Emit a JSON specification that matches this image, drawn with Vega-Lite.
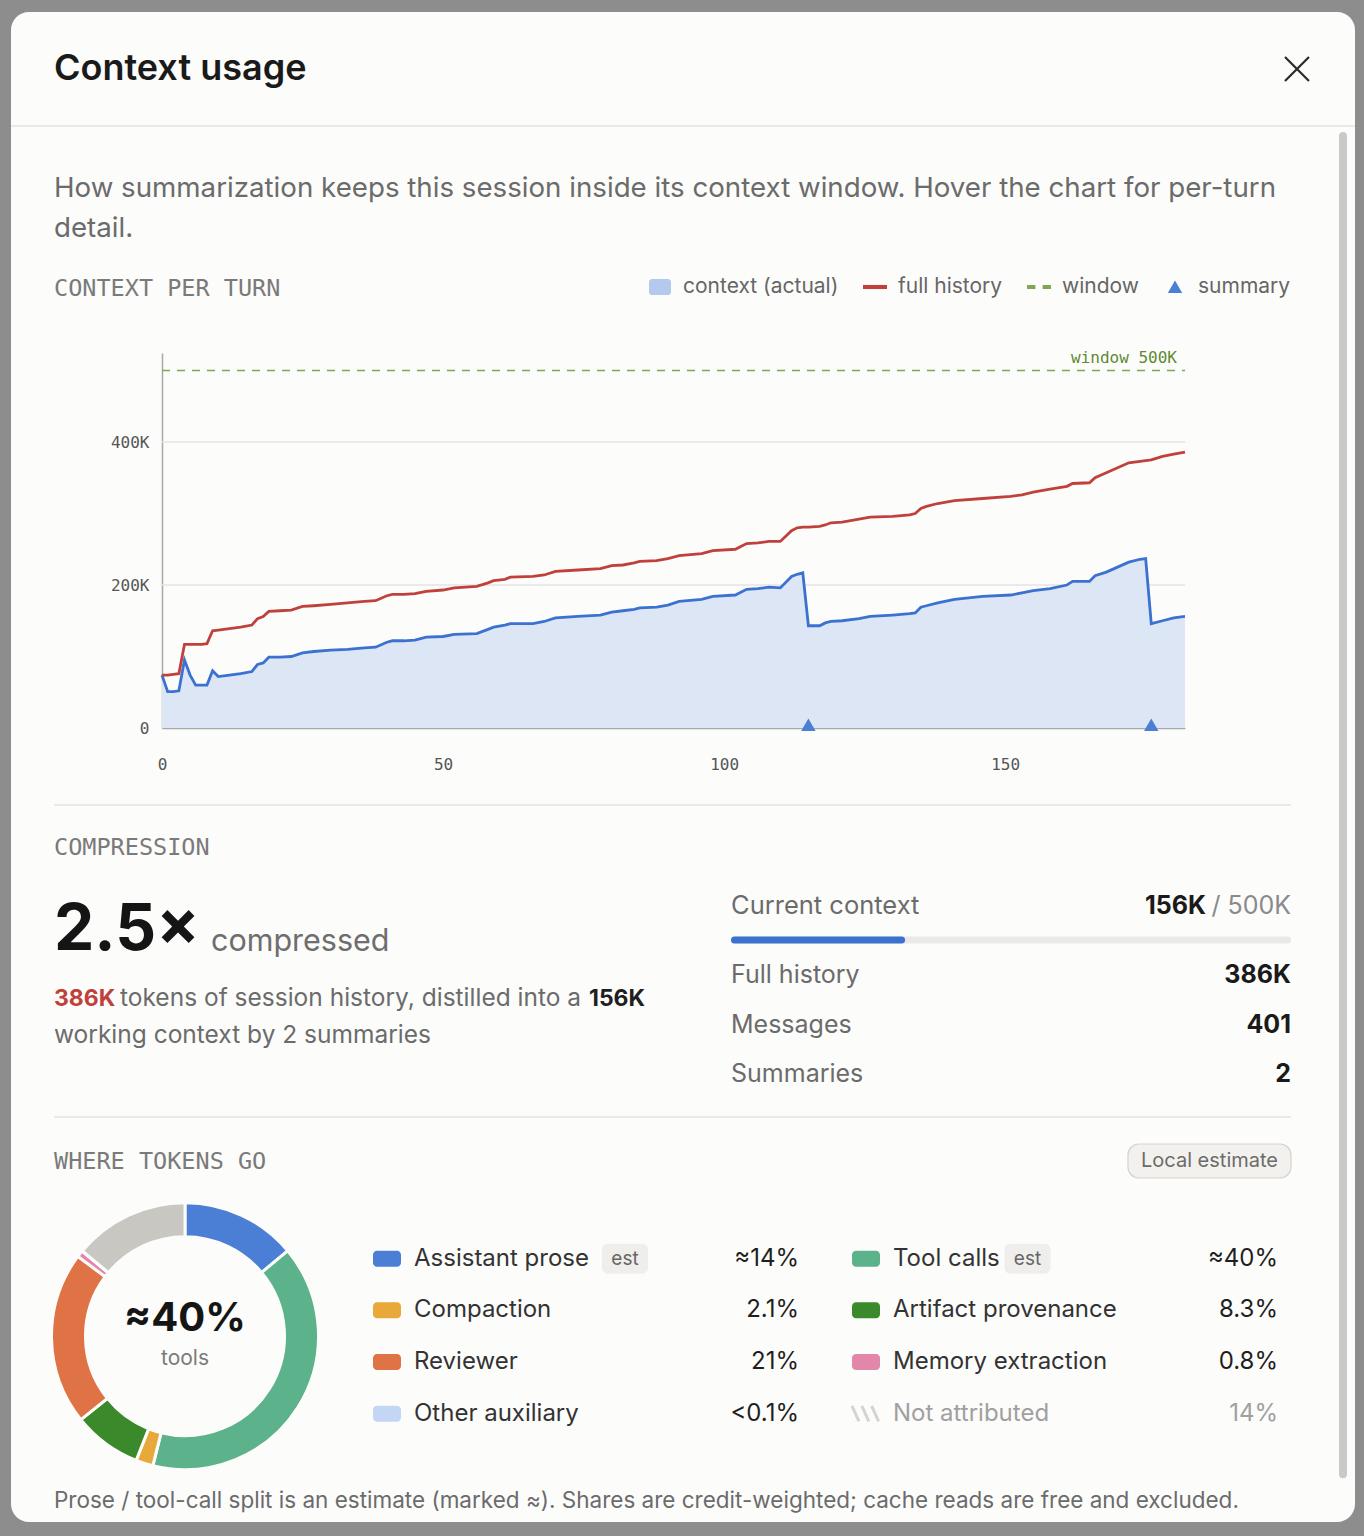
{
  "$schema": "https://vega.github.io/schema/vega-lite/v6.json",
  "background": "#8d8d8d",
  "padding": {"left": 10, "right": 10, "top": 0, "bottom": 0},
  "spacing": 0,
  "bounds": "flush",
  "config": {"view": {"stroke": null}, "text": {"font": "Inter"}},
  "datasets": {
    "turns": [
      {"turn": 0, "history": 74000, "context": 74000},
      {"turn": 1, "history": 74000, "context": 51000},
      {"turn": 2, "history": 75000, "context": 51000},
      {"turn": 3, "history": 76000, "context": 52000},
      {"turn": 4, "history": 117000, "context": 95000},
      {"turn": 5, "history": 117000, "context": 74000},
      {"turn": 6, "history": 117000, "context": 60000},
      {"turn": 7, "history": 117000, "context": 60000},
      {"turn": 8, "history": 118000, "context": 60000},
      {"turn": 9, "history": 136000, "context": 80000},
      {"turn": 10, "history": 137000, "context": 72000},
      {"turn": 12, "history": 139000, "context": 74000},
      {"turn": 14, "history": 141000, "context": 76000},
      {"turn": 16, "history": 144000, "context": 79000},
      {"turn": 17, "history": 153000, "context": 89000},
      {"turn": 18, "history": 156000, "context": 91000},
      {"turn": 19, "history": 163000, "context": 99000},
      {"turn": 21, "history": 164000, "context": 99000},
      {"turn": 23, "history": 165000, "context": 100000},
      {"turn": 25, "history": 170000, "context": 105000},
      {"turn": 27, "history": 171000, "context": 107000},
      {"turn": 30, "history": 173000, "context": 109000},
      {"turn": 33, "history": 175000, "context": 110000},
      {"turn": 36, "history": 177000, "context": 112000},
      {"turn": 38, "history": 178000, "context": 113000},
      {"turn": 40, "history": 185000, "context": 120000},
      {"turn": 41, "history": 187000, "context": 122000},
      {"turn": 43, "history": 187000, "context": 122000},
      {"turn": 45, "history": 188000, "context": 123000},
      {"turn": 47, "history": 191000, "context": 127000},
      {"turn": 50, "history": 193000, "context": 128000},
      {"turn": 52, "history": 196000, "context": 131000},
      {"turn": 56, "history": 198000, "context": 132000},
      {"turn": 58, "history": 203000, "context": 138000},
      {"turn": 59, "history": 206000, "context": 141000},
      {"turn": 61, "history": 208000, "context": 144000},
      {"turn": 62, "history": 211000, "context": 146000},
      {"turn": 66, "history": 212000, "context": 146000},
      {"turn": 68, "history": 214000, "context": 149000},
      {"turn": 70, "history": 219000, "context": 154000},
      {"turn": 74, "history": 221000, "context": 156000},
      {"turn": 78, "history": 223000, "context": 158000},
      {"turn": 80, "history": 227000, "context": 162000},
      {"turn": 82, "history": 228000, "context": 164000},
      {"turn": 84, "history": 231000, "context": 166000},
      {"turn": 85, "history": 233000, "context": 168000},
      {"turn": 88, "history": 234000, "context": 169000},
      {"turn": 90, "history": 237000, "context": 172000},
      {"turn": 92, "history": 241000, "context": 177000},
      {"turn": 96, "history": 244000, "context": 180000},
      {"turn": 98, "history": 248000, "context": 184000},
      {"turn": 102, "history": 250000, "context": 186000},
      {"turn": 104, "history": 258000, "context": 194000},
      {"turn": 106, "history": 259000, "context": 195000},
      {"turn": 108, "history": 261000, "context": 197000},
      {"turn": 110, "history": 261000, "context": 196000},
      {"turn": 112, "history": 276000, "context": 212000},
      {"turn": 113, "history": 280000, "context": 215000},
      {"turn": 114, "history": 281000, "context": 217000},
      {"turn": 115, "history": 281000, "context": 143000},
      {"turn": 117, "history": 282000, "context": 143000},
      {"turn": 118, "history": 284000, "context": 147000},
      {"turn": 119, "history": 287000, "context": 149000},
      {"turn": 121, "history": 288000, "context": 150000},
      {"turn": 124, "history": 292000, "context": 153000},
      {"turn": 126, "history": 295000, "context": 156000},
      {"turn": 130, "history": 296000, "context": 158000},
      {"turn": 133, "history": 298000, "context": 160000},
      {"turn": 134, "history": 300000, "context": 161000},
      {"turn": 135, "history": 307000, "context": 169000},
      {"turn": 136, "history": 310000, "context": 171000},
      {"turn": 138, "history": 314000, "context": 175000},
      {"turn": 141, "history": 318000, "context": 180000},
      {"turn": 146, "history": 321000, "context": 184000},
      {"turn": 151, "history": 324000, "context": 186000},
      {"turn": 153, "history": 326000, "context": 189000},
      {"turn": 155, "history": 330000, "context": 192000},
      {"turn": 158, "history": 334000, "context": 195000},
      {"turn": 161, "history": 338000, "context": 200000},
      {"turn": 162, "history": 342000, "context": 205000},
      {"turn": 165, "history": 343000, "context": 205000},
      {"turn": 166, "history": 350000, "context": 213000},
      {"turn": 168, "history": 357000, "context": 218000},
      {"turn": 170, "history": 364000, "context": 225000},
      {"turn": 172, "history": 371000, "context": 232000},
      {"turn": 174, "history": 373000, "context": 236000},
      {"turn": 175, "history": 374000, "context": 237000},
      {"turn": 176, "history": 375000, "context": 146000},
      {"turn": 178, "history": 380000, "context": 150000},
      {"turn": 180, "history": 383000, "context": 154000},
      {"turn": 182, "history": 386000, "context": 156000}
    ],
    "shares": [
      {"cat": "Assistant prose", "share": 14, "display": "≈14%", "col": 1, "row": 1, "rank": 1},
      {"cat": "Tool calls", "share": 40, "display": "≈40%", "col": 2, "row": 1, "rank": 2},
      {"cat": "Compaction", "share": 2.1, "display": "2.1%", "col": 1, "row": 2, "rank": 3},
      {"cat": "Artifact provenance", "share": 8.3, "display": "8.3%", "col": 2, "row": 2, "rank": 4},
      {"cat": "Reviewer", "share": 21, "display": "21%", "col": 1, "row": 3, "rank": 5},
      {"cat": "Memory extraction", "share": 0.8, "display": "0.8%", "col": 2, "row": 3, "rank": 6},
      {"cat": "Other auxiliary", "share": 0.05, "display": "<0.1%", "col": 1, "row": 4, "rank": 7},
      {"cat": "Not attributed", "share": 14, "display": "14%", "col": 2, "row": 4, "rank": 8}
    ]
  },
  "vconcat": [
    {
      "width": 1301, "height": 353,
      "data": {"values": [{"title": "Context usage", "section": "CONTEXT PER TURN"}]},
      "layer": [
        {"mark": {"type": "rect", "fill": "#fcfcfb", "cornerRadius": 18},
         "encoding": {
           "x": {"datum": -0.03305, "type": "quantitative", "scale": {"domain": [0, 1]}, "axis": null},
           "x2": {"datum": 1},
           "y": {"datum": 0.966, "type": "quantitative", "scale": {"domain": [0, 1]}, "axis": null},
           "y2": {"datum": -3.3116}}},
        {"mark": {"type": "rule", "stroke": "#c9c9c9", "strokeWidth": 8, "strokeCap": "round"},
         "encoding": {
           "x": {"datum": 0.9908, "type": "quantitative", "axis": null},
           "y": {"datum": 0.615, "type": "quantitative", "axis": null},
           "y2": {"datum": -3.176}}},
        {"mark": {"type": "rule", "stroke": "#e4e3e0", "strokeWidth": 1.5},
         "encoding": {
           "x": {"datum": -0.03305, "type": "quantitative", "axis": null},
           "x2": {"datum": 1},
           "y": {"datum": 0.6431, "type": "quantitative", "axis": null}}},
        {"mark": {"type": "text", "align": "left", "baseline": "middle", "fontSize": 36, "fontWeight": 600, "color": "#1a1a1a"},
         "encoding": {
           "x": {"datum": 0, "type": "quantitative", "axis": null},
           "y": {"datum": 0.8045, "type": "quantitative", "axis": null},
           "text": {"field": "title"}}},
        {"mark": {"type": "point", "shape": "M-1,-1L1,1M1,-1L-1,1", "size": 576, "filled": false, "stroke": "#2a2a2a", "strokeWidth": 2.2, "opacity": 1},
         "encoding": {
           "x": {"datum": 0.9554, "type": "quantitative", "axis": null},
           "y": {"datum": 0.8045, "type": "quantitative", "axis": null}}},
        {"mark": {"type": "text", "align": "left", "baseline": "alphabetic", "fontSize": 27.7, "lineHeight": 40, "color": "#6b6b6b"},
         "encoding": {
           "x": {"datum": 0, "type": "quantitative", "axis": null},
           "y": {"datum": 0.4419, "type": "quantitative", "axis": null},
           "text": {"value": ["How summarization keeps this session inside its context window. Hover the chart for per-turn", "detail."]}}},
        {"mark": {"type": "text", "align": "left", "baseline": "middle", "font": "DejaVu Sans Mono", "fontSize": 23.5, "color": "#7a7a7a"},
         "encoding": {
           "x": {"datum": 0, "type": "quantitative", "axis": null},
           "y": {"datum": 0.181, "type": "quantitative", "axis": null},
           "text": {"field": "section"}}}
      ]
    },
    {
      "width": 1131, "height": 375,
      "layer": [
        {"data": {"values": [{"tokens": 200000}, {"tokens": 400000}]},
         "mark": {"type": "rule", "stroke": "#e5e5e5", "strokeWidth": 1.5},
         "encoding": {
           "x": {"datum": 0, "type": "quantitative", "scale": {"domain": [0, 182], "range": [108, 1131], "nice": false, "zero": false}},
           "x2": {"datum": 182},
           "y": {"field": "tokens", "type": "quantitative", "scale": {"domain": [0, 524500], "nice": false}}}},
        {"data": {"name": "turns"},
         "mark": {"type": "area", "color": "#dde6f5", "opacity": 1},
         "encoding": {
           "x": {"field": "turn", "type": "quantitative", "scale": {"domain": [0, 182], "range": [108, 1131], "nice": false, "zero": false},
                 "axis": {"values": [0, 50, 100, 150], "title": null, "grid": false, "ticks": false, "labelFlush": false, "domainColor": "#a8a8a8", "domainWidth": 1.5, "labelFont": "DejaVu Sans Mono", "labelFontSize": 16, "labelColor": "#555555", "labelPadding": 28}},
           "y": {"field": "context", "type": "quantitative", "scale": {"domain": [0, 524500], "nice": false},
                 "axis": {"values": [0, 200000, 400000], "title": null, "grid": false, "ticks": false, "labelFlush": false, "offset": -108, "domainColor": "#a8a8a8", "domainWidth": 1.5, "labelFont": "DejaVu Sans Mono", "labelFontSize": 16, "labelColor": "#555555", "labelPadding": 13,
                          "labelExpr": "datum.value === 0 ? '0' : format(datum.value / 1000, 'd') + 'K'"}}}},
        {"data": {"name": "turns"},
         "mark": {"type": "line", "color": "#3b72d0", "strokeWidth": 2.8},
         "encoding": {
           "x": {"field": "turn", "type": "quantitative"},
           "y": {"field": "context", "type": "quantitative"}}},
        {"data": {"name": "turns"},
         "mark": {"type": "line", "color": "#c0413b", "strokeWidth": 2.8},
         "encoding": {
           "x": {"field": "turn", "type": "quantitative"},
           "y": {"field": "history", "type": "quantitative"}}},
        {"data": {"values": [{"window": 500000, "label": "window 500K"}]},
         "mark": {"type": "rule", "stroke": "#7ea653", "strokeWidth": 1.5, "strokeDash": [8, 7]},
         "encoding": {
           "x": {"datum": 0, "type": "quantitative"},
           "x2": {"datum": 182},
           "y": {"field": "window", "type": "quantitative"}}},
        {"data": {"values": [{"window": 500000, "label": "window 500K"}]},
         "mark": {"type": "text", "align": "right", "baseline": "middle", "dx": -8, "dy": -13, "font": "DejaVu Sans Mono", "fontSize": 16, "color": "#5d8a31"},
         "encoding": {
           "x": {"datum": 182, "type": "quantitative"},
           "y": {"field": "window", "type": "quantitative"},
           "text": {"field": "label"}}},
        {"data": {"values": [{"turn": 115, "tokens": 0, "series": "summary"}, {"turn": 176, "tokens": 0, "series": "summary"}]},
         "mark": {"type": "point", "filled": true, "opacity": 1, "size": 576, "yOffset": -3},
         "encoding": {
           "x": {"field": "turn", "type": "quantitative"},
           "y": {"field": "tokens", "type": "quantitative"},
           "fill": {"field": "series", "type": "nominal",
                    "scale": {"domain": ["context (actual)", "full history", "window", "summary"], "range": ["#b3c9ee", "#c0413b", "#7ea653", "#4a7fd4"]},
                    "legend": {"orient": "none", "legendX": 594, "legendY": 275, "direction": "horizontal", "title": null, "symbolSize": 576, "symbolStrokeWidth": 0, "labelFont": "Inter", "labelFontSize": 21, "labelColor": "#666666", "labelOffset": 11, "columnPadding": 24, "padding": 0}},
           "shape": {"field": "series", "type": "nominal",
                    "scale": {"domain": ["context (actual)", "full history", "window", "summary"],
                              "range": ["M-0.667,-0.667H0.667A0.25,0.25 0 0 1 0.917,-0.417V0.417A0.25,0.25 0 0 1 0.667,0.667H-0.667A0.25,0.25 0 0 1 -0.917,0.417V-0.417A0.25,0.25 0 0 1 -0.667,-0.667Z",
                                        "M-1,-0.17H1V0.17H-1Z",
                                        "M-1,-0.17H-0.3V0.17H-1ZM0.3,-0.17H1V0.17H0.3Z",
                                        "M0,-0.55L0.6,0.5L-0.6,0.5Z"]},
                    "legend": {"orient": "none", "legendX": 594, "legendY": 275, "direction": "horizontal", "title": null, "symbolSize": 576, "symbolStrokeWidth": 0, "labelFont": "Inter", "labelFontSize": 21, "labelColor": "#666666", "labelOffset": 11, "columnPadding": 24, "padding": 0}}}}
      ]
    },
    {
      "width": 1237, "height": 389,
      "data": {"values": [{"ratio": "2.5×", "history": "386K", "current": "156K", "section": "COMPRESSION", "window": "/ 500K", "messages": "401", "summaries": "2"}]},
      "layer": [
        {"mark": {"type": "rule", "stroke": "#e4e3e0", "strokeWidth": 1.5},
         "encoding": {
           "x": {"datum": 0, "type": "quantitative", "scale": {"domain": [0, 1]}, "axis": null},
           "x2": {"datum": 1},
           "y": {"datum": 0.8021, "type": "quantitative", "scale": {"domain": [0, 1]}, "axis": null}}},
        {"mark": {"type": "text", "align": "left", "baseline": "middle", "font": "DejaVu Sans Mono", "fontSize": 23.5, "color": "#7a7a7a"},
         "encoding": {"x": {"datum": 0, "type": "quantitative", "axis": null}, "y": {"datum": 0.6915, "type": "quantitative", "axis": null}, "text": {"field": "section"}}},
        {"mark": {"type": "text", "align": "left", "baseline": "middle", "fontSize": 64, "fontWeight": 700, "color": "#151515"},
         "encoding": {"x": {"datum": 0, "type": "quantitative", "axis": null}, "y": {"datum": 0.478, "type": "quantitative", "axis": null}, "text": {"field": "ratio"}}},
        {"mark": {"type": "text", "align": "left", "baseline": "middle", "fontSize": 30.5, "color": "#6e6e6e"},
         "encoding": {"x": {"datum": 0.1269, "type": "quantitative", "axis": null}, "y": {"datum": 0.4499, "type": "quantitative", "axis": null}, "text": {"value": "compressed"}}},
        {"mark": {"type": "text", "align": "left", "baseline": "middle", "fontSize": 23, "fontWeight": 700, "color": "#c0413b"},
         "encoding": {"x": {"datum": 0, "type": "quantitative", "axis": null}, "y": {"datum": 0.3033, "type": "quantitative", "axis": null}, "text": {"field": "history"}}},
        {"mark": {"type": "text", "align": "left", "baseline": "middle", "fontSize": 24.5, "color": "#6b6b6b"},
         "encoding": {"x": {"datum": 0.05336, "type": "quantitative", "axis": null}, "y": {"datum": 0.3033, "type": "quantitative", "axis": null}, "text": {"value": "tokens of session history, distilled into a"}}},
        {"mark": {"type": "text", "align": "left", "baseline": "middle", "fontSize": 23, "fontWeight": 700, "color": "#1f1f1f"},
         "encoding": {"x": {"datum": 0.4325, "type": "quantitative", "axis": null}, "y": {"datum": 0.3033, "type": "quantitative", "axis": null}, "text": {"field": "current"}}},
        {"mark": {"type": "text", "align": "left", "baseline": "middle", "fontSize": 24.5, "color": "#6b6b6b"},
         "encoding": {"x": {"datum": 0, "type": "quantitative", "axis": null}, "y": {"datum": 0.2082, "type": "quantitative", "axis": null}, "text": {"value": "working context by 2 summaries"}}},
        {"mark": {"type": "rule", "strokeWidth": 7, "strokeCap": "round", "color": "#ebe9e6"},
         "encoding": {"x": {"datum": 0.5501, "type": "quantitative", "axis": null}, "x2": {"datum": 0.9972}, "y": {"datum": 0.455, "type": "quantitative", "axis": null}}},
        {"mark": {"type": "rule", "strokeWidth": 7, "strokeCap": "round", "color": "#3b72d0"},
         "encoding": {"x": {"datum": 0.5501, "type": "quantitative", "axis": null}, "x2": {"datum": 0.6852}, "y": {"datum": 0.455, "type": "quantitative", "axis": null}}},
        {"mark": {"type": "text", "align": "left", "baseline": "middle", "fontSize": 25.5, "color": "#6b6b6b"},
         "encoding": {"x": {"datum": 0.5473, "type": "quantitative", "axis": null}, "y": {"datum": 0.5424, "type": "quantitative", "axis": null}, "text": {"value": "Current context"}}},
        {"mark": {"type": "text", "align": "right", "baseline": "middle", "fontSize": 25, "color": "#8a8a8a"},
         "encoding": {"x": {"datum": 1, "type": "quantitative", "axis": null}, "y": {"datum": 0.5424, "type": "quantitative", "axis": null}, "text": {"field": "window"}}},
        {"mark": {"type": "text", "align": "right", "baseline": "middle", "fontSize": 25, "fontWeight": 700, "color": "#1a1a1a", "dx": -85},
         "encoding": {"x": {"datum": 1, "type": "quantitative", "axis": null}, "y": {"datum": 0.5424, "type": "quantitative", "axis": null}, "text": {"field": "current"}}},
        {"mark": {"type": "text", "align": "left", "baseline": "middle", "fontSize": 25, "color": "#6b6b6b"},
         "encoding": {"x": {"datum": 0.5473, "type": "quantitative", "axis": null}, "y": {"datum": 0.365, "type": "quantitative", "axis": null}, "text": {"value": "Full history"}}},
        {"mark": {"type": "text", "align": "right", "baseline": "middle", "fontSize": 25, "fontWeight": 700, "color": "#1a1a1a"},
         "encoding": {"x": {"datum": 1, "type": "quantitative", "axis": null}, "y": {"datum": 0.365, "type": "quantitative", "axis": null}, "text": {"field": "history"}}},
        {"mark": {"type": "text", "align": "left", "baseline": "middle", "fontSize": 25, "color": "#6b6b6b"},
         "encoding": {"x": {"datum": 0.5473, "type": "quantitative", "axis": null}, "y": {"datum": 0.2365, "type": "quantitative", "axis": null}, "text": {"value": "Messages"}}},
        {"mark": {"type": "text", "align": "right", "baseline": "middle", "fontSize": 25, "fontWeight": 700, "color": "#1a1a1a"},
         "encoding": {"x": {"datum": 1, "type": "quantitative", "axis": null}, "y": {"datum": 0.2365, "type": "quantitative", "axis": null}, "text": {"field": "messages"}}},
        {"mark": {"type": "text", "align": "left", "baseline": "middle", "fontSize": 25, "color": "#6b6b6b"},
         "encoding": {"x": {"datum": 0.5473, "type": "quantitative", "axis": null}, "y": {"datum": 0.1105, "type": "quantitative", "axis": null}, "text": {"value": "Summaries"}}},
        {"mark": {"type": "text", "align": "right", "baseline": "middle", "fontSize": 25, "fontWeight": 700, "color": "#1a1a1a"},
         "encoding": {"x": {"datum": 1, "type": "quantitative", "axis": null}, "y": {"datum": 0.1105, "type": "quantitative", "axis": null}, "text": {"field": "summaries"}}}
      ]
    },
    {
      "width": 1237, "height": 89.3,
      "data": {"values": [{"section": "WHERE TOKENS GO", "badge": "Local estimate"}]},
      "layer": [
        {"mark": {"type": "rule", "stroke": "#e4e3e0", "strokeWidth": 1.5},
         "encoding": {
           "x": {"datum": 0, "type": "quantitative", "scale": {"domain": [0, 1]}, "axis": null},
           "x2": {"datum": 1},
           "y": {"datum": 1, "type": "quantitative", "scale": {"domain": [0, 1]}, "axis": null}}},
        {"mark": {"type": "text", "align": "left", "baseline": "middle", "font": "DejaVu Sans Mono", "fontSize": 23.5, "color": "#7a7a7a"},
         "encoding": {"x": {"datum": 0, "type": "quantitative", "axis": null}, "y": {"datum": 0.496, "type": "quantitative", "axis": null}, "text": {"field": "section"}}},
        {"mark": {"type": "rect", "cornerRadius": 11, "fill": "#f3f1ee", "stroke": "#d5d3cf", "strokeWidth": 1.2},
         "encoding": {"x": {"datum": 0.8682, "type": "quantitative", "axis": null}, "x2": {"datum": 1}, "y": {"datum": 0.6977, "type": "quantitative", "axis": null}, "y2": {"datum": 0.3169}}},
        {"mark": {"type": "text", "align": "center", "baseline": "middle", "fontSize": 20, "color": "#6b6b6b"},
         "encoding": {"x": {"datum": 0.9341, "type": "quantitative", "axis": null}, "y": {"datum": 0.5073, "type": "quantitative", "axis": null}, "text": {"field": "badge"}}}
      ]
    },
    {
      "hconcat": [
        {
          "width": 262, "height": 258.3,
          "layer": [
            {"data": {"name": "shares"},
             "mark": {"type": "arc", "outerRadius": 133.5, "innerRadius": 99.5, "stroke": "#fcfcfb", "strokeWidth": 3},
             "encoding": {
               "theta": {"field": "share", "type": "quantitative", "stack": true},
               "order": {"field": "rank", "type": "quantitative"},
               "color": {"field": "cat", "type": "nominal", "legend": null,
                         "scale": {"domain": ["Assistant prose", "Tool calls", "Compaction", "Artifact provenance", "Reviewer", "Memory extraction", "Other auxiliary", "Not attributed"],
                                   "range": ["#4a7fd5", "#5cb38b", "#e8a83a", "#3a8a2b", "#e07346", "#e286aa", "#c3d6f3", "#c9c7c2"]}}}},
            {"data": {"values": [{"headline": "≈40%", "sub": "tools"}]},
             "mark": {"type": "text", "align": "center", "baseline": "middle", "fontSize": 40, "fontWeight": 700, "color": "#151515", "dy": -17},
             "encoding": {
               "x": {"datum": 0.5, "type": "quantitative", "scale": {"domain": [0, 1]}, "axis": null},
               "y": {"datum": 0.5, "type": "quantitative", "scale": {"domain": [0, 1]}, "axis": null},
               "text": {"field": "headline"}}},
            {"data": {"values": [{"headline": "≈40%", "sub": "tools"}]},
             "mark": {"type": "text", "align": "center", "baseline": "middle", "fontSize": 21, "color": "#7a7a7a", "dy": 23},
             "encoding": {
               "x": {"datum": 0.5, "type": "quantitative", "axis": null},
               "y": {"datum": 0.5, "type": "quantitative", "axis": null},
               "text": {"field": "sub"}}}
          ]
        },
        {
          "width": 479, "height": 258.3,
          "data": {"name": "shares"},
          "layer": [
            {"transform": [{"filter": "datum.cat !== 'Not attributed'"}],
             "mark": {"type": "point", "filled": true, "opacity": 1, "size": 784,
                      "shape": "M-0.714,-0.571H0.714A0.286,0.286 0 0 1 1,-0.286V0.286A0.286,0.286 0 0 1 0.714,0.571H-0.714A0.286,0.286 0 0 1 -1,0.286V-0.286A0.286,0.286 0 0 1 -0.714,-0.571Z"},
             "encoding": {
               "x": {"field": "col", "type": "ordinal", "scale": {"type": "point", "domain": [1, 2], "padding": 0}, "axis": null},
               "y": {"field": "row", "type": "ordinal", "scale": {"type": "point", "domain": [1, 2, 3, 4], "padding": 1}, "axis": null},
               "color": {"field": "cat", "type": "nominal", "legend": null,
                        "scale": {"domain": ["Assistant prose", "Tool calls", "Compaction", "Artifact provenance", "Reviewer", "Memory extraction", "Other auxiliary"],
                                  "range": ["#4a7fd5", "#5cb38b", "#e8a83a", "#3a8a2b", "#e07346", "#e286aa", "#c3d6f3"]}}}},
            {"transform": [{"filter": "datum.cat === 'Not attributed'"}],
             "mark": {"type": "point", "filled": false, "opacity": 1, "size": 784, "color": "#d4d4d4", "strokeWidth": 3,
                      "shape": "M-1,-0.55L-0.5,0.55M-0.3,-0.55L0.2,0.55M0.4,-0.55L0.9,0.55"},
             "encoding": {
               "x": {"field": "col", "type": "ordinal", "axis": null},
               "y": {"field": "row", "type": "ordinal", "axis": null}}},
            {"transform": [{"filter": "datum.cat === 'Assistant prose'"}],
             "mark": {"type": "point", "filled": true, "opacity": 1, "size": 2116, "color": "#efeeeb", "xOffset": 238,
                      "shape": "M-0.739,-0.652H0.739A0.261,0.261 0 0 1 1,-0.391V0.391A0.261,0.261 0 0 1 0.739,0.652H-0.739A0.261,0.261 0 0 1 -1,0.391V-0.391A0.261,0.261 0 0 1 -0.739,-0.652Z"},
             "encoding": {
               "x": {"field": "col", "type": "ordinal", "axis": null},
               "y": {"field": "row", "type": "ordinal", "axis": null}}},
            {"transform": [{"filter": "datum.cat === 'Tool calls'"}],
             "mark": {"type": "point", "filled": true, "opacity": 1, "size": 2116, "color": "#efeeeb", "xOffset": 161.5,
                      "shape": "M-0.739,-0.652H0.739A0.261,0.261 0 0 1 1,-0.391V0.391A0.261,0.261 0 0 1 0.739,0.652H-0.739A0.261,0.261 0 0 1 -1,0.391V-0.391A0.261,0.261 0 0 1 -0.739,-0.652Z"},
             "encoding": {
               "x": {"field": "col", "type": "ordinal", "axis": null},
               "y": {"field": "row", "type": "ordinal", "axis": null}}},
            {"mark": {"type": "text", "align": "left", "baseline": "middle", "fontSize": 24, "dx": 27},
             "encoding": {
               "x": {"field": "col", "type": "ordinal", "axis": null},
               "y": {"field": "row", "type": "ordinal", "axis": null},
               "text": {"field": "cat"},
               "color": {"condition": {"test": "datum.cat === 'Not attributed'", "value": "#a0a0a0"}, "value": "#333333"}}},
            {"mark": {"type": "text", "align": "right", "baseline": "middle", "fontSize": 24, "dx": 412},
             "encoding": {
               "x": {"field": "col", "type": "ordinal", "axis": null},
               "y": {"field": "row", "type": "ordinal", "axis": null},
               "text": {"field": "display"},
               "color": {"condition": {"test": "datum.cat === 'Not attributed'", "value": "#a0a0a0"}, "value": "#1f1f1f"}}},
            {"transform": [{"filter": "datum.cat === 'Assistant prose'"}],
             "mark": {"type": "text", "align": "center", "baseline": "middle", "fontSize": 19, "color": "#666666", "dx": 238},
             "encoding": {
               "x": {"field": "col", "type": "ordinal", "axis": null},
               "y": {"field": "row", "type": "ordinal", "axis": null},
               "text": {"value": "est"}}},
            {"transform": [{"filter": "datum.cat === 'Tool calls'"}],
             "mark": {"type": "text", "align": "center", "baseline": "middle", "fontSize": 19, "color": "#666666", "dx": 161.5},
             "encoding": {
               "x": {"field": "col", "type": "ordinal", "axis": null},
               "y": {"field": "row", "type": "ordinal", "axis": null},
               "text": {"value": "est"}}}
          ]
        }
      ],
      "spacing": 71,
      "bounds": "flush"
    },
    {
      "width": 1237, "height": 329.7,
      "data": {"values": [{"note": "Prose / tool-call split is an estimate (marked ≈). Shares are credit-weighted; cache reads are free and excluded."}]},
      "mark": {"type": "text", "align": "left", "baseline": "middle", "fontSize": 22.5, "color": "#6b6b6b"},
      "encoding": {
        "x": {"datum": 0, "type": "quantitative", "scale": {"domain": [0, 1]}, "axis": null},
        "y": {"datum": 0.1092, "type": "quantitative", "scale": {"domain": [0, 1]}, "axis": null},
        "text": {"field": "note"}
      }
    }
  ]
}
